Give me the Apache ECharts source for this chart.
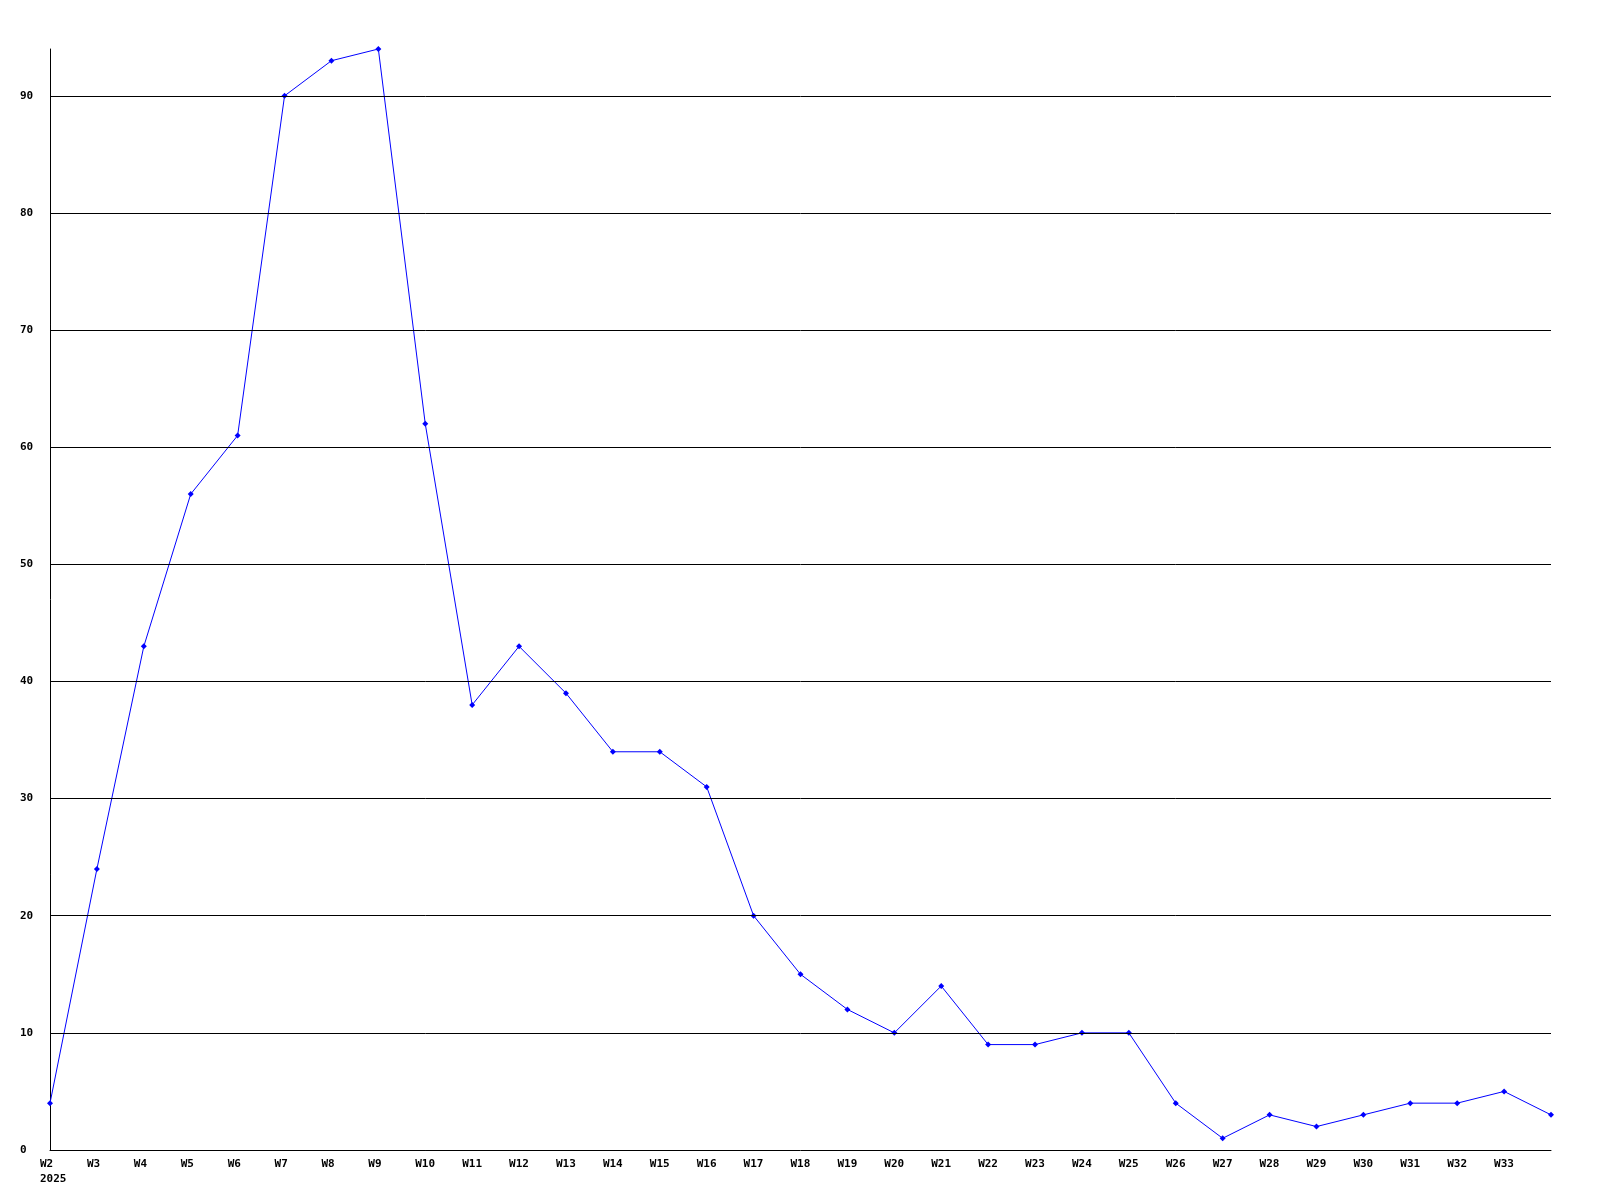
<!DOCTYPE html>
<html>
<head>
<meta charset="utf-8">
<script src="https://cdn.jsdelivr.net/npm/echarts@6/dist/echarts.min.js"></script>
<style>html,body{margin:0;padding:0;background:#fff}#c{width:1600px;height:1200px}</style>
</head>
<body>
<div id="c"></div>
<script>
const categories = ["W2","W3","W4","W5","W6","W7","W8","W9","W10","W11","W12","W13","W14","W15","W16","W17","W18","W19","W20","W21","W22","W23","W24","W25","W26","W27","W28","W29","W30","W31","W32","W33","W34"];
const tickLabels = ["W2\n2025","W3","W4","W5","W6","W7","W8","W9","W10","W11","W12","W13","W14","W15","W16","W17","W18","W19","W20","W21","W22","W23","W24","W25","W26","W27","W28","W29","W30","W31","W32","W33",""];
const values = [4,24,43,56,61,90,93,94,62,38,43,39,34,34,31,20,15,12,10,14,9,9,10,10,4,1,3,2,3,4,4,5,3];
const gridValues = [10,20,30,40,50,60,70,80,90];
const yMax = 94;

const chart = echarts.init(document.getElementById('c'));
const font = '"DejaVu Sans Mono", monospace';
chart.setOption({
  animation: false,
  backgroundColor: '#fff',
  grid: {left: 50, right: 49, top: 49, bottom: 50, containLabel: false},
  xAxis: {
    type: 'category',
    data: categories,
    boundaryGap: false,
    axisLine: {show: true, lineStyle: {color: '#000', width: 1}},
    axisTick: {show: false},
    splitLine: {show: false},
    axisLabel: {
      interval: 0, margin: 7, color: '#000', fontFamily: font, fontWeight: 'bold', fontSize: 11, lineHeight: 15,
      align: 'left', padding: [0, 0, 0, -10],
      formatter: (v, i) => tickLabels[i]
    }
  },
  yAxis: {
    type: 'value', min: 0, max: yMax, interval: 10,
    axisLine: {show: true, lineStyle: {color: '#000', width: 1}},
    axisTick: {show: false},
    splitLine: {show: false},
    axisLabel: {
      margin: 30, align: 'left', color: '#000', fontFamily: font, fontWeight: 'bold', fontSize: 11,
      showMaxLabel: false
    }
  },
  series: [{
    type: 'line',
    data: values,
    symbol: 'diamond', symbolSize: 6, showSymbol: true,
    lineStyle: {color: '#0000ff', width: 1},
    itemStyle: {color: '#0000ff'},
    markLine: {
      silent: true, symbol: 'none', label: {show: false},
      lineStyle: {color: '#000', width: 1, type: 'solid'},
      data: gridValues.map(v => ({yAxis: v}))
    },
    z: 3
  }]
});
</script>
</body>
</html>
